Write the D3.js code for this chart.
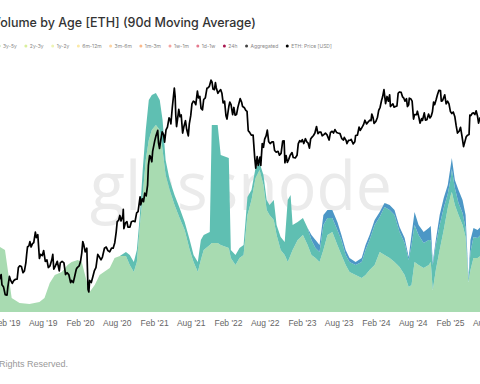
<!DOCTYPE html>
<html>
<head>
<meta charset="utf-8">
<script src="https://cdn.jsdelivr.net/npm/d3@7"></script>
<style>
  body { margin: 0; background: #fff; }
  svg { display: block; }
</style>
</head>
<body>
<script>
const WIDTH = 480;
const HEIGHT = 384;
const BASE_Y = 312;

// legend (the older bands sit left of the visible crop)
const legendLabels = ["3y-5y", "2y-3y", "1y-2y", "6m-12m", "3m-6m", "1m-3m", "1w-1m", "1d-1w", "24h", "Aggregated", "ETH: Price [USD]"];
const legendColors = ["#abdda4", "#d9ef9c", "#eef4b4", "#fbe9a6", "#fdd3a0", "#fbb98a", "#f4a3a0", "#e57a8e", "#a8164e", "#444", "#000"];

const xTicks = ["2019-02-01", "2019-08-01", "2020-02-01", "2020-08-01", "2021-02-01", "2021-08-01", "2022-02-01", "2022-08-01",
                "2023-02-01", "2023-08-01", "2024-02-01", "2024-08-01", "2025-02-01", "2025-08-01"];

// volume by age, 90d MA (thousand ETH), stacked bottom -> top
const volDates = ["2018-09-25","2018-12-08","2019-01-02","2019-01-27","2019-02-10","2019-03-01","2019-04-09","2019-05-28","2019-07-16","2019-08-10",
  "2019-09-05","2019-09-30","2019-11-03","2019-12-02","2019-12-22","2020-01-21","2020-02-10","2020-03-01","2020-03-20","2020-04-14",
  "2020-05-08","2020-06-27","2020-07-21","2020-08-16","2020-09-15","2020-10-04","2020-10-24","2020-11-08","2020-11-23","2020-12-07",
  "2020-12-22","2021-01-06","2021-01-21","2021-02-10","2021-03-01","2021-03-15","2021-03-30","2021-04-19","2021-05-13","2021-06-07",
  "2021-07-02","2021-07-27","2021-08-15","2021-09-05","2021-09-20","2021-10-04","2021-11-03","2021-11-13","2021-12-12","2021-12-27",
  "2022-02-05","2022-02-15","2022-03-10","2022-03-30","2022-04-19","2022-05-08","2022-05-28","2022-06-17","2022-07-07","2022-07-26",
  "2022-08-11","2022-08-25","2022-09-15","2022-09-29","2022-10-19","2022-11-08","2022-11-23","2022-12-07","2022-12-17","2023-01-11",
  "2023-02-06","2023-03-01","2023-03-20","2023-04-09","2023-04-29","2023-05-18","2023-06-07","2023-07-01","2023-07-26","2023-08-15",
  "2023-09-05","2023-09-24","2023-10-24","2023-11-23","2023-12-12","2024-01-01","2024-01-26","2024-02-20","2024-03-15","2024-04-09",
  "2024-05-03","2024-05-28","2024-06-22","2024-07-12","2024-07-26","2024-08-10","2024-08-30","2024-09-24","2024-10-19","2024-10-29",
  "2024-11-08","2024-11-23","2024-12-12","2025-01-01","2025-01-21","2025-02-05","2025-02-10","2025-02-25","2025-03-15","2025-04-04",
  "2025-04-19","2025-05-03","2025-05-13","2025-05-28","2025-06-17","2025-07-07"];
const vol3y5y = [288,268,260,248,168,56,36,32,40,56,
  116,148,160,188,200,208,200,136,80,108,
  148,176,216,224,224,188,160,200,348,468,
  608,688,728,748,728,648,548,488,428,376,
  328,248,200,160,208,248,268,276,276,268,
  256,216,188,216,228,388,448,536,568,508,
  408,388,368,308,248,228,200,228,248,288,
  308,268,228,216,200,248,308,320,268,228,
  188,160,148,136,148,168,188,240,228,216,
  200,180,148,100,108,200,188,176,188,200,
  88,168,248,328,416,468,480,428,388,348,
  300,120,168,216,216,228];
const vol5y7y = [0,0,0,0,0,0,0,0,0,0,
  0,0,0,0,0,0,0,0,0,0,
  0,0,0,0,16,40,40,48,40,100,
  120,160,140,128,120,120,60,40,40,40,
  32,40,28,40,80,60,52,472,472,360,
  360,32,40,40,40,72,40,40,28,40,
  40,40,80,40,52,52,248,240,100,72,
  68,68,60,40,40,100,68,56,60,60,
  40,40,40,64,100,120,160,140,192,192,
  188,140,128,108,160,148,120,100,100,88,
  100,100,100,88,56,68,92,68,48,48,
  36,8,72,84,80,84];
const vol7y10y = [0,0,0,0,0,0,0,0,0,0,
  0,0,0,0,0,0,0,0,0,0,
  0,0,0,0,0,0,0,0,0,0,
  0,0,0,0,0,0,0,0,0,0,
  0,0,0,0,0,0,0,0,0,0,
  0,0,0,0,0,0,0,0,0,0,
  0,0,0,0,0,0,0,0,0,0,
  0,0,20,32,28,40,32,32,32,20,
  20,16,12,16,20,20,20,20,16,20,
  20,20,20,12,40,52,40,44,48,56,
  12,20,40,40,36,52,44,32,52,52,
  52,8,48,36,32,32];
const bandColors = ["#a8dbb1", "#5fbfb2", "#4c97c6"];

// ETH price [USD]
const ethPrice = [
  ["2018-12-25",130],["2019-01-01",140],["2019-01-08",150],["2019-01-12",125],["2019-01-20",120],["2019-01-28",105],["2019-02-06",104],
  ["2019-02-10",120],["2019-02-18",145],["2019-02-24",135],["2019-03-04",128],["2019-03-12",135],["2019-03-20",138],["2019-03-28",138],
  ["2019-04-03",170],["2019-04-10",175],["2019-04-18",173],["2019-04-26",155],["2019-05-03",160],["2019-05-10",185],["2019-05-14",215],
  ["2019-05-18",245],["2019-05-25",250],["2019-05-30",270],["2019-06-05",245],["2019-06-12",260],["2019-06-18",265],["2019-06-26",320],
  ["2019-07-01",290],["2019-07-08",305],["2019-07-16",200],["2019-07-22",215],["2019-07-30",210],["2019-08-06",230],["2019-08-14",190],
  ["2019-08-22",195],["2019-08-29",170],["2019-09-06",175],["2019-09-15",195],["2019-09-20",215],["2019-09-25",165],["2019-10-03",175],
  ["2019-10-12",190],["2019-10-22",160],["2019-10-27",185],["2019-11-05",190],["2019-11-14",185],["2019-11-22",150],["2019-11-29",155],
  ["2019-12-08",150],["2019-12-17",130],["2019-12-22",135],["2019-12-30",130],["2020-01-06",145],["2020-01-14",165],["2020-01-19",170],
  ["2020-01-28",175],["2020-02-04",190],["2020-02-10",220],["2020-02-15",270],["2020-02-20",255],["2020-02-27",225],["2020-03-06",240],
  ["2020-03-12",115],["2020-03-16",110],["2020-03-20",135],["2020-03-28",130],["2020-04-05",145],["2020-04-12",160],["2020-04-20",170],
  ["2020-04-29",215],["2020-05-07",205],["2020-05-15",195],["2020-05-22",205],["2020-06-01",240],["2020-06-10",245],["2020-06-18",230],
  ["2020-06-27",225],["2020-07-06",240],["2020-07-14",240],["2020-07-22",265],["2020-07-29",320],["2020-08-03",385],["2020-08-10",395],
  ["2020-08-16",430],["2020-08-22",390],["2020-08-31",430],["2020-09-02",480],["2020-09-05",340],["2020-09-12",375],["2020-09-20",385],
  ["2020-09-25",350],["2020-10-05",350],["2020-10-12",385],["2020-10-21",390],["2020-10-30",385],["2020-11-07",450],["2020-11-14",460],
  ["2020-11-24",600],["2020-11-27",520],["2020-12-05",580],["2020-12-11",550],["2020-12-17",640],["2020-12-24",610],["2020-12-31",740],
  ["2021-01-04",1050],["2021-01-10",1250],["2021-01-14",1230],["2021-01-21",1120],["2021-01-25",1350],["2021-02-04",1620],["2021-02-10",1770],
  ["2021-02-19",1960],["2021-02-23",1570],["2021-02-28",1420],["2021-03-06",1650],["2021-03-13",1910],["2021-03-20",1820],["2021-03-25",1590],
  ["2021-04-01",1980],["2021-04-08",2080],["2021-04-16",2450],["2021-04-22",2350],["2021-04-25",2200],["2021-05-02",2950],["2021-05-07",3500],
  ["2021-05-12",4170],["2021-05-16",3600],["2021-05-19",2600],["2021-05-23",2100],["2021-05-28",2400],["2021-06-03",2850],["2021-06-09",2500],
  ["2021-06-15",2580],["2021-06-22",1870],["2021-06-28",2090],["2021-07-06",2330],["2021-07-12",2000],["2021-07-20",1780],["2021-07-25",2200],
  ["2021-08-01",2550],["2021-08-07",3150],["2021-08-14",3300],["2021-08-20",3250],["2021-08-26",3100],["2021-09-03",3950],["2021-09-08",3500],
  ["2021-09-15",3600],["2021-09-21",2900],["2021-09-28",2830],["2021-10-04",3400],["2021-10-12",3500],["2021-10-20",4150],["2021-10-26",4200],
  ["2021-11-01",4300],["2021-11-09",4800],["2021-11-14",4650],["2021-11-19",4100],["2021-11-26",4050],["2021-12-01",4600],["2021-12-05",4200],
  ["2021-12-13",3800],["2021-12-20",3950],["2021-12-27",4050],["2022-01-02",3800],["2022-01-08",3200],["2022-01-15",3300],["2022-01-22",2550],
  ["2022-01-27",2400],["2022-02-05",3000],["2022-02-10",3250],["2022-02-16",3100],["2022-02-24",2600],["2022-03-02",2950],["2022-03-08",2570],
  ["2022-03-15",2600],["2022-03-22",2970],["2022-04-02",3450],["2022-04-09",3250],["2022-04-14",3000],["2022-04-22",2950],["2022-04-30",2800],
  ["2022-05-06",2750],["2022-05-12",1950],["2022-05-18",1900],["2022-05-27",1800],["2022-06-05",1800],["2022-06-13",1200],["2022-06-18",1000],
  ["2022-06-25",1230],["2022-06-30",1050],["2022-07-09",1220],["2022-07-13",1050],["2022-07-20",1550],["2022-07-26",1450],["2022-08-01",1680],
  ["2022-08-08",1780],["2022-08-14",1970],["2022-08-21",1600],["2022-08-28",1550],["2022-09-06",1600],["2022-09-13",1600],["2022-09-19",1370],
  ["2022-09-27",1330],["2022-10-06",1350],["2022-10-13",1260],["2022-10-21",1300],["2022-10-29",1620],["2022-11-05",1630],["2022-11-09",1100],
  ["2022-11-15",1250],["2022-11-21",1110],["2022-11-28",1170],["2022-12-05",1260],["2022-12-14",1320],["2022-12-20",1210],["2022-12-30",1200],
  ["2023-01-08",1260],["2023-01-14",1550],["2023-01-21",1630],["2023-01-28",1600],["2023-02-03",1660],["2023-02-10",1550],["2023-02-18",1690],
  ["2023-02-25",1600],["2023-03-03",1570],["2023-03-10",1430],["2023-03-16",1680],["2023-03-23",1740],["2023-03-30",1790],["2023-04-06",1870],
  ["2023-04-14",2100],["2023-04-21",1850],["2023-04-28",1900],["2023-05-06",1900],["2023-05-12",1780],["2023-05-20",1820],["2023-05-28",1870],
  ["2023-06-05",1810],["2023-06-15",1650],["2023-06-22",1890],["2023-06-30",1930],["2023-07-07",1870],["2023-07-14",1990],["2023-07-22",1890],
  ["2023-07-29",1870],["2023-08-08",1850],["2023-08-17",1690],["2023-08-25",1650],["2023-08-29",1730],["2023-09-07",1640],["2023-09-11",1550],
  ["2023-09-19",1640],["2023-09-28",1650],["2023-10-02",1670],["2023-10-12",1540],["2023-10-20",1600],["2023-10-24",1790],["2023-11-02",1800],
  ["2023-11-10",2080],["2023-11-16",1960],["2023-11-24",2060],["2023-12-02",2170],["2023-12-09",2350],["2023-12-17",2200],["2023-12-24",2270],
  ["2024-01-02",2350],["2024-01-08",2330],["2024-01-12",2620],["2024-01-18",2470],["2024-01-23",2220],["2024-02-01",2300],["2024-02-09",2480],
  ["2024-02-15",2800],["2024-02-22",2960],["2024-02-29",3340],["2024-03-05",3550],["2024-03-12",4050],["2024-03-16",3580],["2024-03-20",3160],
  ["2024-03-27",3590],["2024-04-03",3300],["2024-04-09",3700],["2024-04-13",3000],["2024-04-19",3070],["2024-04-25",3150],["2024-05-01",2970],
  ["2024-05-08",3000],["2024-05-15",3030],["2024-05-21",3800],["2024-05-27",3890],["2024-06-05",3860],["2024-06-12",3560],["2024-06-18",3480],
  ["2024-06-24",3300],["2024-07-01",3450],["2024-07-06",3000],["2024-07-12",3100],["2024-07-15",3480],["2024-07-22",3450],["2024-07-29",3300],
  ["2024-08-05",2400],["2024-08-10",2600],["2024-08-20",2600],["2024-08-24",2760],["2024-09-01",2450],["2024-09-06",2230],["2024-09-14",2420],
  ["2024-09-18",2340],["2024-09-27",2680],["2024-10-03",2350],["2024-10-10",2370],["2024-10-18",2620],["2024-10-25",2450],["2024-10-31",2520],
  ["2024-11-06",2720],["2024-11-12",3250],["2024-11-17",3100],["2024-11-24",3370],["2024-12-01",3700],["2024-12-08",4000],["2024-12-16",3980],
  ["2024-12-20",3300],["2024-12-26",3330],["2025-01-06",3700],["2025-01-13",3150],["2025-01-20",3300],["2025-01-27",3150],["2025-02-03",2750],
  ["2025-02-10",2650],["2025-02-17",2720],["2025-02-25",2500],["2025-03-03",2150],["2025-03-10",1870],["2025-03-18",1930],["2025-03-25",2070],
  ["2025-03-31",1820],["2025-04-09",1470],["2025-04-15",1590],["2025-04-22",1750],["2025-04-29",1800],["2025-05-06",1820],["2025-05-10",2580],
  ["2025-05-15",2550],["2025-05-22",2660],["2025-05-28",2680],["2025-06-04",2600],["2025-06-10",2780],["2025-06-17",2520],["2025-06-22",2230],
  ["2025-06-28",2430],["2025-07-04",2500],["2025-07-10",2770]
];

const parse = d3.utcParse("%Y-%m-%d");

let svg = d3.select("body")
            .append("svg")
            .attr("width", WIDTH)
            .attr("height", HEIGHT)
            .style("font-family", "Inter, 'Liberation Sans', sans-serif");

svg.append("rect").attr("width", WIDTH).attr("height", HEIGHT).attr("fill", "#fff");

let x = d3.scaleUtc()
          .domain([parse("2019-02-01"), parse("2025-02-01")])
          .range([6, 450]);

let yVol = d3.scaleLinear()
             .domain([0, 1000])
             .range([BASE_Y, 62]);

let yPrice = d3.scaleLog()
               .domain([100, 10000])
               .range([297.3, 39]);

// watermark
svg.append("text")
   .attr("x", 90)
   .attr("y", 210)
   .attr("textLength", 302)
   .attr("lengthAdjust", "spacingAndGlyphs")
   .attr("font-family", "'Open Sans', sans-serif")
   .attr("font-size", 68)
   .attr("fill", "#ebebeb")
   .text("glassnode");

// stacked areas
const rows = volDates.map((d, i) => ({
  date: parse(d), a: vol3y5y[i], b: vol5y7y[i], c: vol7y10y[i]
}));
const stack = d3.stack().keys(["a", "b", "c"])(rows);

let area = d3.area()
             .x(d => x(d.data.date))
             .y0(d => yVol(d[0]))
             .y1(d => yVol(d[1]));

svg.append("clipPath").attr("id", "plot")
   .append("rect").attr("x", 0).attr("y", 0).attr("width", WIDTH).attr("height", BASE_Y);

let plot = svg.append("g").attr("clip-path", "url(#plot)");

plot.selectAll("path.band")
    .data(stack)
    .enter().append("path")
    .attr("class", "band")
    .attr("fill", (d, i) => bandColors[i])
    .attr("d", area);

let priceLine = d3.line()
                  .x(d => x(parse(d[0])))
                  .y(d => yPrice(d[1]));

plot.append("path")
    .datum(ethPrice)
    .attr("fill", "none")
    .attr("stroke", "#000")
    .attr("stroke-width", 1.7)
    .attr("stroke-linejoin", "round")
    .attr("d", priceLine);

// x axis
let xAxis = d3.axisBottom(x)
              .tickValues(xTicks.map(parse))
              .tickFormat(d3.utcFormat("%b '%y"))
              .tickSize(0)
              .tickPadding(8);

let gx = svg.append("g")
            .attr("transform", `translate(0,${BASE_Y})`)
            .call(xAxis);
gx.select(".domain").remove();
gx.selectAll("text")
  .attr("fill", "#666")
  .attr("font-size", 8.5)
  .attr("font-family", "'Liberation Sans', Arial, sans-serif");

// title
svg.append("text")
   .attr("x", -8)
   .attr("y", 27)
   .attr("font-size", 12.5)
   .attr("font-weight", 500)
   .attr("fill", "#333")
   .text("Volume by Age [ETH] (90d Moving Average)");

// legend
let lx = -1;
legendLabels.forEach((label, i) => {
  let g = svg.append("g").attr("transform", `translate(${lx},46)`);
  g.append("circle").attr("r", 1.5).attr("fill", legendColors[i]);
  let t = g.append("text")
           .attr("x", 4)
           .attr("y", 1.8)
           .attr("font-size", 5)
           .attr("fill", "#888")
           .text(label);
  lx += 4 + t.node().getComputedTextLength() + 9;
});

// footer
svg.append("text")
   .attr("x", 68)
   .attr("y", 367)
   .attr("text-anchor", "end")
   .attr("font-size", 9)
   .attr("font-family", "'Liberation Sans', Arial, sans-serif")
   .attr("fill", "#999")
   .text("© 2025 Glassnode. All Rights Reserved.");
</script>
</body>
</html>
